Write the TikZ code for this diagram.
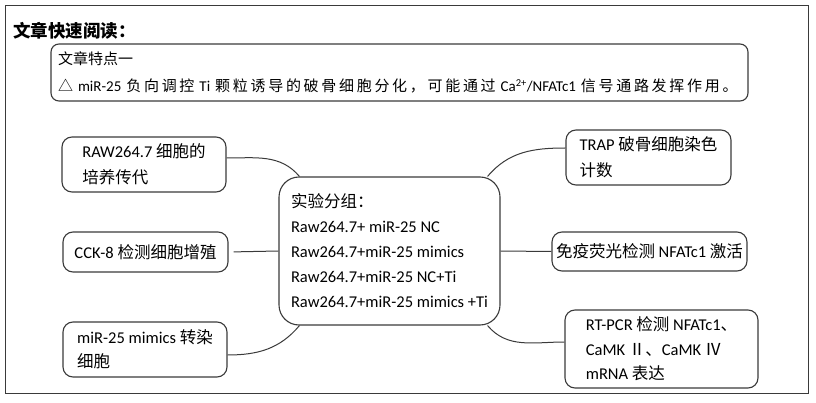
\documentclass[tikz,border=0pt]{standalone}
\usepackage{fontspec}
\setmainfont{Carlito}
\newfontfamily\zhfont{Noto Sans CJK SC}
\newfontfamily\zhwide{Noto Sans CJK SC}[LetterSpace=18]
\newcommand\zh[1]{{\zhfont #1}}
\newcommand\zhw[1]{{\zhwide #1}}
\usetikzlibrary{positioning}
\definecolor{edge}{HTML}{3A3A3A}

\begin{document}
\begin{tikzpicture}[
x=1pt, y=1pt,
box/.style={draw=edge,
line width=1.1pt,
rounded corners=10pt,
align=left,
inner sep=0pt,
font=\fontsize{16.5}{26}\selectfont},
link/.style={draw=edge, line width=1pt}
]
\useasboundingbox (0,0) rectangle (816,-403);
\draw[edge, line width=0.9pt] (5,-5) rectangle (808,-393);

\node[anchor=west, inner sep=0pt, font=\zhfont\bfseries\fontsize{17.5}{22}\selectfont] (title) at (13,-31) {文章快速阅读：};

\node[box, rounded corners=8pt, minimum width=697pt, minimum height=57pt, text width=683pt,
font=\fontsize{15}{27}\selectfont] (feat) at (399.5,-72.5)
{\zh{文章特点一}\\\zhw{△} miR-25 \zhw{负向调控} Ti \zhw{颗粒诱导的破骨细胞分化，可能通过} Ca\textsuperscript{2+}/NFATc1 \zhw{信号通路发挥作用。}};

% left side
\node[box, minimum width=164pt, minimum height=55pt] (raw) at (144,-164.5) {RAW264.7 \zh{细胞的}\\\zh{培养传代}};
\node[box, minimum width=165pt, minimum height=40pt] (cck) at (145.5,-252) {CCK-8 \zh{检测细胞增殖}};
\node[box, minimum width=164pt, minimum height=55pt, font=\fontsize{16.5}{24}\selectfont] (mimic) at (145,-349.5) {miR-25 mimics \zh{转染}\\\zh{细胞}};

% groups
\node[box, rounded corners=20pt, minimum width=221pt, minimum height=148pt, font=\fontsize{16.5}{25}\selectfont] (groups) at (389.5,-251)
{\zh{实验分组：}\\Raw264.7+ miR-25 NC\\Raw264.7+miR-25 mimics\\Raw264.7+miR-25 NC+Ti\\Raw264.7+miR-25 mimics +Ti};

% right side
\node[box, minimum width=165pt, minimum height=55pt] (trap) at (648.5,-157.5) {TRAP \zh{破骨细胞染色}\\\zh{计数}};
\node[box, minimum width=195pt, minimum height=39pt] (ifl) at (649.5,-251.5) {\zh{免疫荧光检测} NFATc1 \zh{激活}};
\node[box, minimum width=193pt, minimum height=78pt, font=\fontsize{16.5}{24.5}\selectfont] (rtpcr) at (661.5,-349)
{RT-PCR \zh{检测} NFATc1\zh{、}\\CaMK \zh{Ⅱ、}CaMK \zh{Ⅳ}\\mRNA \zh{表达}};

\draw[link] ([yshift=6.5pt]raw.east) to[out=0, in=130] ([xshift=21pt]groups.north west);
\draw[link, shorten <=5pt] (cck.east) -- (groups.west);
\draw[link] ([yshift=-5.5pt]mimic.east) to[out=0, in=230] ([xshift=21pt]groups.south west);
\draw[link] ([yshift=9.5pt]trap.west) to[out=180, in=50] ([xshift=-13pt]groups.north east);
\draw[link] (groups.east) -- (ifl.west);
\draw[link] ([yshift=7pt]rtpcr.west) to[out=180, in=-50] ([xshift=-13pt]groups.south east);

\end{tikzpicture}
\end{document}
